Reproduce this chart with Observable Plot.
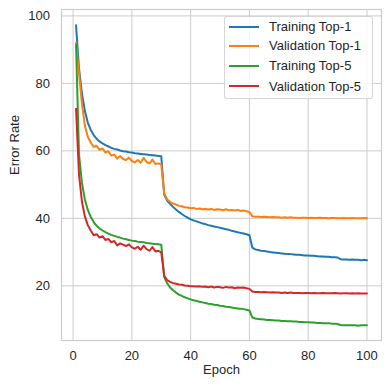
<!DOCTYPE html>
<html>
<head>
<meta charset="utf-8">
<script src="https://cdn.jsdelivr.net/npm/d3@7"></script>
<script src="https://cdn.jsdelivr.net/npm/@observablehq/plot@0.6"></script>
<style>
  html, body { margin: 0; padding: 0; background: #fff; }
  #wrap { position: relative; width: 390px; height: 389px; font-family: "Liberation Sans", Arial, sans-serif; }
  #legend { position: absolute; left: 224px; top: 16px; width: 149px; height: 83px;
    border: 1px solid rgba(204,204,204,0.8); border-radius: 3px; background: rgba(255,255,255,0.8);
    box-sizing: border-box; }
  .row { position: absolute; left: 0; height: 14px; display: flex; align-items: center; }
  .sw { width: 30px; height: 2px; margin-left: 4px; }
  .lb { margin-left: 10px; font-size: 13px; color: #262626; white-space: nowrap; }
</style>
</head>
<body>
<div id="wrap"></div>
<script>
const seriesNames = ["Training Top-1", "Validation Top-1", "Training Top-5", "Validation Top-5"];
const seriesColors = ["#1f77b4", "#ff7f0e", "#2ca02c", "#d62728"];
const epochs = d3.range(1, 101);

const trainTop1 = [
  97.2, 84.5, 77.0, 71.8, 68.4, 66.2, 64.7, 63.6, 62.8, 62.2,
  61.7, 61.3, 60.9, 60.6, 60.4, 60.1, 59.9, 59.8, 59.6, 59.5,
  59.3, 59.2, 59.1, 59.0, 58.9, 58.8, 58.7, 58.6, 58.5, 58.4,
  47.0, 45.3, 44.3, 43.4, 42.6, 41.9, 41.3, 40.7, 40.2, 39.7,
  39.4, 39.1, 38.8, 38.5, 38.3, 38.0, 37.8, 37.6, 37.4, 37.2,
  37.0, 36.8, 36.6, 36.3, 36.1, 35.9, 35.7, 35.5, 35.3, 35.0,
  31.3, 30.8, 30.6, 30.4, 30.3, 30.2, 30.0, 29.9, 29.8, 29.7,
  29.6, 29.5, 29.4, 29.4, 29.3, 29.2, 29.2, 29.1, 29.0, 29.0,
  28.9, 28.9, 28.8, 28.7, 28.7, 28.6, 28.6, 28.5, 28.5, 28.4,
  27.9, 27.8, 27.8, 27.7, 27.8, 27.7, 27.7, 27.6, 27.7, 27.6
];
const valTop1 = [
  92.0, 83.0, 74.0, 67.5, 64.2, 62.5, 61.2, 61.5, 60.3, 60.7,
  59.5, 59.9, 58.6, 58.9, 57.7, 58.5, 57.6, 57.3, 58.0, 57.0,
  56.6, 57.3, 56.5, 57.9, 56.7, 56.3, 57.4, 56.1, 56.3, 55.9,
  47.5, 45.6, 44.9, 44.4, 44.1, 43.7, 43.6, 43.3, 43.2, 43.0,
  43.1, 42.8, 42.9, 42.7, 42.8, 42.6, 42.8, 42.5, 42.7, 42.6,
  42.4, 42.7, 42.4, 42.5, 42.3, 42.5, 42.2, 42.3, 42.1, 41.9,
  40.6, 40.5, 40.5, 40.4, 40.5, 40.4, 40.3, 40.4, 40.3, 40.3,
  40.2, 40.3, 40.2, 40.3, 40.2, 40.2, 40.1, 40.2, 40.2, 40.1,
  40.2, 40.1, 40.1, 40.2, 40.1, 40.1, 40.0, 40.1, 40.1, 40.0,
  40.0, 40.1, 40.0, 40.0, 40.1, 40.0, 40.0, 40.0, 40.1, 40.0
];
const trainTop5 = [
  91.5, 59.0, 50.5, 45.6, 42.5, 40.4, 38.9, 37.8, 37.0, 36.4,
  35.9, 35.5, 35.1, 34.8, 34.5, 34.3, 34.0, 33.8, 33.6, 33.4,
  33.3, 33.1, 33.0, 32.9, 32.7, 32.6, 32.5, 32.4, 32.3, 32.2,
  22.6, 20.8, 19.5, 18.7, 18.0, 17.4, 17.0, 16.6, 16.3, 16.0,
  15.7, 15.5, 15.3, 15.1, 14.9, 14.7, 14.6, 14.4, 14.3, 14.1,
  14.0, 13.8, 13.7, 13.6, 13.4, 13.3, 13.2, 13.1, 12.9, 12.7,
  10.6, 10.3, 10.2, 10.1, 10.0, 9.9, 9.9, 9.8, 9.7, 9.7,
  9.6, 9.6, 9.5, 9.5, 9.4, 9.4, 9.3, 9.3, 9.2, 9.2,
  9.1, 9.1, 9.0, 9.0, 8.9, 8.9, 8.9, 8.8, 8.8, 8.7,
  8.4, 8.3, 8.3, 8.3, 8.3, 8.3, 8.2, 8.3, 8.3, 8.3
];
const valTop5 = [
  72.5, 53.0, 45.0, 40.6, 38.0, 36.4, 35.0, 35.3, 34.3, 34.7,
  33.6, 33.9, 32.9, 33.3, 32.0, 32.6, 32.2, 31.8, 32.3, 31.4,
  31.0, 31.6, 30.7, 31.9, 30.9, 30.4, 31.5, 30.2, 30.4, 29.9,
  23.0, 21.7, 21.2, 20.8, 20.6, 20.4, 20.3, 20.1, 20.0, 19.9,
  19.9, 19.8, 19.9, 19.7, 19.8, 19.6, 19.8, 19.5, 19.7, 19.6,
  19.4, 19.7, 19.5, 19.6, 19.3, 19.5, 19.4, 19.5, 19.3, 19.1,
  18.3, 18.2, 18.2, 18.1, 18.2, 18.1, 18.0, 18.1, 18.0, 18.0,
  17.9, 18.0, 17.9, 18.0, 17.9, 17.9, 17.9, 17.8, 17.9, 17.9,
  17.8, 17.9, 17.8, 17.8, 17.9, 17.8, 17.8, 17.8, 17.9, 17.8,
  17.7, 17.8, 17.8, 17.7, 17.8, 17.7, 17.8, 17.7, 17.7, 17.7
];
const xTicks = [0, 20, 40, 60, 80, 100];
const yTicks = [20, 40, 60, 80, 100];
const xLabel = "Epoch";
const yLabel = "Error Rate";

const allSeries = [trainTop1, valTop1, trainTop5, valTop5];
const data = [];
allSeries.forEach((vals, si) => {
  vals.forEach((v, i) => data.push({ epoch: epochs[i], value: v, series: seriesNames[si] }));
});

const font = '"Liberation Sans", Arial, sans-serif';
const chart = Plot.plot({
  width: 390,
  height: 389,
  marginLeft: 61,
  marginRight: 9,
  marginTop: 9,
  marginBottom: 49,
  style: { fontFamily: font, fontSize: "13px", color: "#262626", background: "#fff" },
  x: { domain: [-3.95, 104.95] },
  y: { domain: [3.8, 101.9] },
  color: { domain: seriesNames, range: seriesColors },
  marks: [
    Plot.gridX(xTicks, { stroke: "#cccccc", strokeOpacity: 1, strokeWidth: 1 }),
    Plot.gridY(yTicks, { stroke: "#cccccc", strokeOpacity: 1, strokeWidth: 1 }),
    Plot.frame({ stroke: "#cccccc", strokeWidth: 1.2 }),
    Plot.axisX({ ticks: xTicks, tickSize: 0, tickPadding: 10.5, label: null, fontSize: 13, fill: "#262626" }),
    Plot.axisY({ ticks: yTicks, tickSize: 0, tickPadding: 11.5, label: null, fontSize: 13, fill: "#262626" }),
    Plot.line(data, { x: "epoch", y: "value", z: "series", stroke: "series", strokeWidth: 2, strokeLinejoin: "round" }),
    Plot.text([xLabel], { frameAnchor: "bottom", text: d => d, dy: 33, fontSize: 13, fill: "#262626" }),
    Plot.text([yLabel], { frameAnchor: "left", text: d => d, dx: -47, rotate: -90, fontSize: 13, fill: "#262626" })
  ]
});

const wrap = document.getElementById("wrap");
wrap.appendChild(chart);

const legend = document.createElement("div");
legend.id = "legend";
const rowTops = [2.7, 21.7, 41.7, 62];
seriesNames.forEach((name, i) => {
  const row = document.createElement("div");
  row.className = "row";
  row.style.top = rowTops[i] + "px";
  const sw = document.createElement("div");
  sw.className = "sw";
  sw.style.background = seriesColors[i];
  const lb = document.createElement("span");
  lb.className = "lb";
  lb.textContent = name;
  row.appendChild(sw);
  row.appendChild(lb);
  legend.appendChild(row);
});
wrap.appendChild(legend);
</script>
</body>
</html>
